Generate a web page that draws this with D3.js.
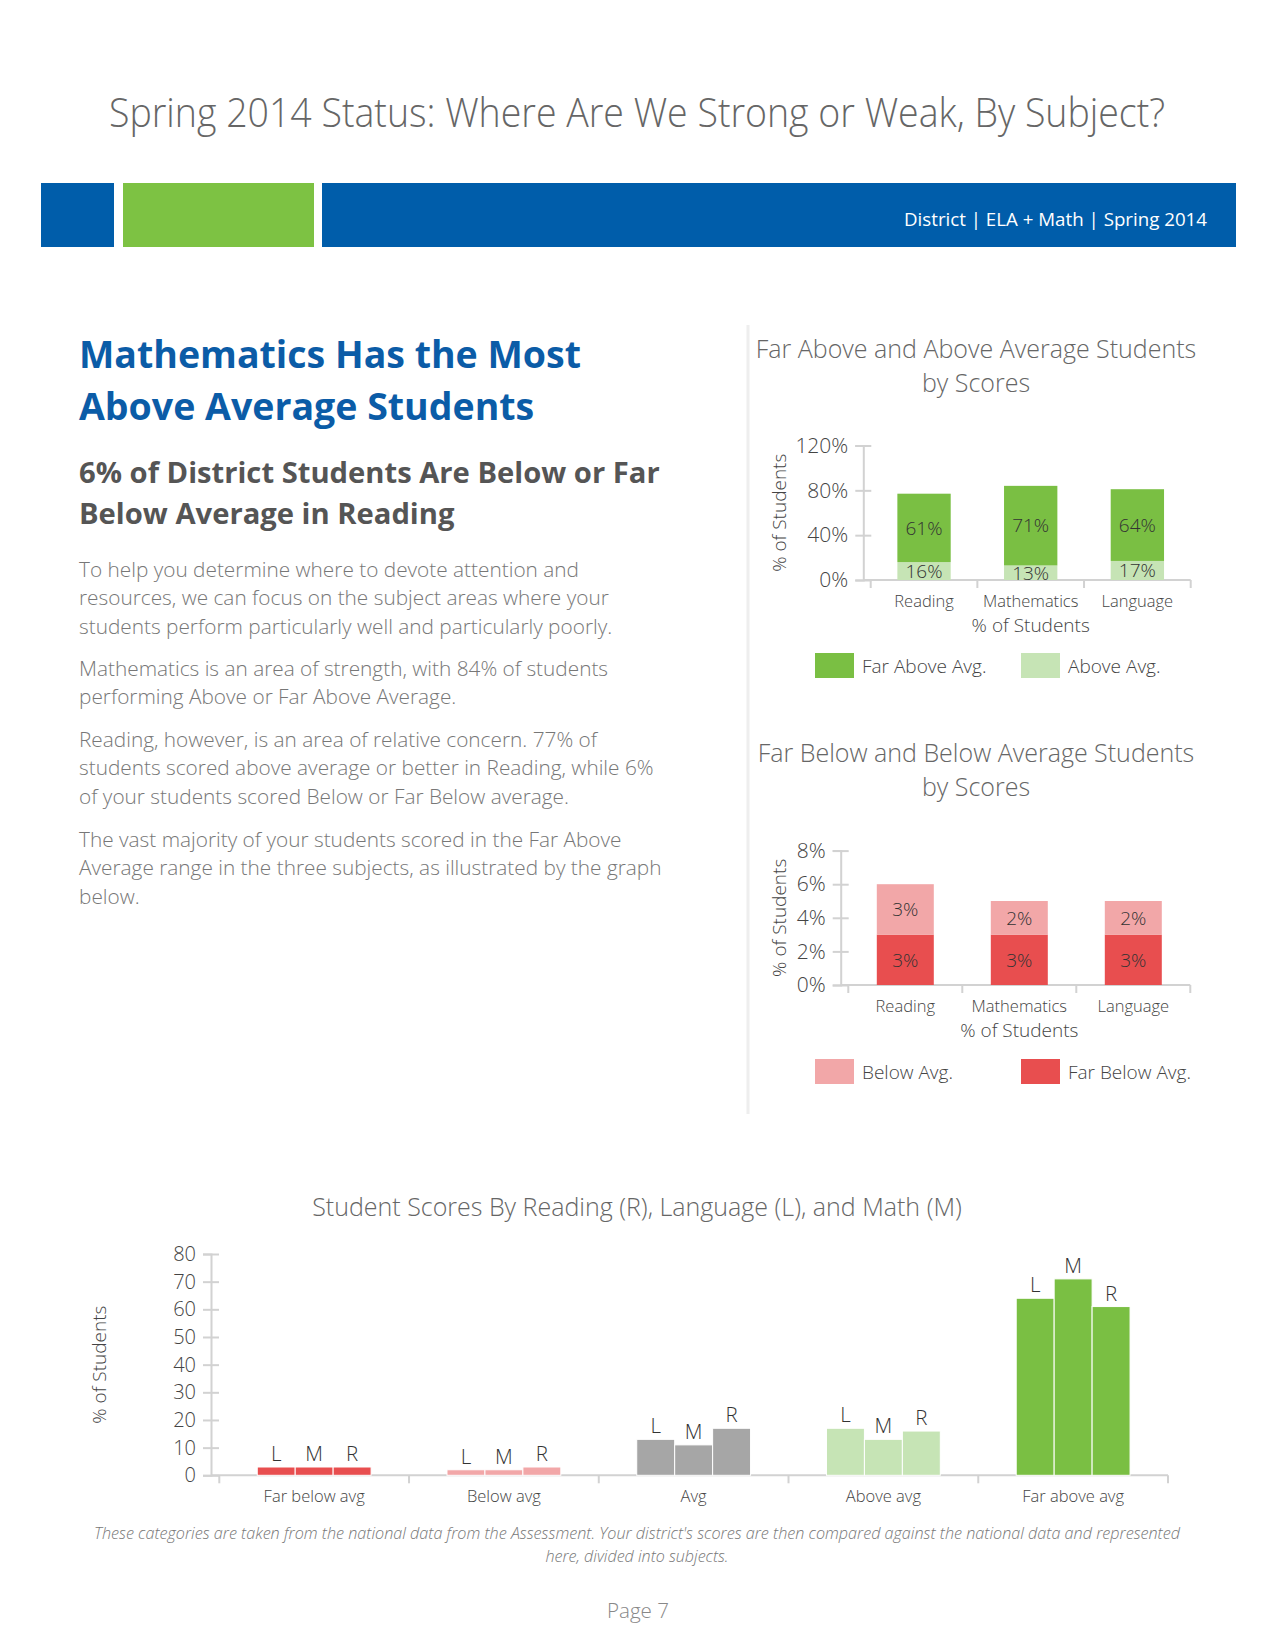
<!DOCTYPE html>
<html>
<head>
<meta charset="utf-8">
<script src="https://cdn.jsdelivr.net/npm/d3@7"></script>
<style>
  body { margin: 0; background: #fff; }
  svg { display: block; font-family: "Open Sans", sans-serif; }
</style>
</head>
<body>
<div id="page"></div>
<script>
// page size
const width = 1275;
const height = 1650;

// data
const subjects = ["Reading", "Mathematics", "Language"];
const farAbove = [61, 71, 64];
const aboveAvg = [16, 13, 17];
const belowAvg = [3, 2, 2];
const farBelow = [3, 3, 3];
const topTicks = [0, 40, 80, 120];
const lowTicks = [0, 2, 4, 6, 8];

const levels = ["Far below avg", "Below avg", "Avg", "Above avg", "Far above avg"];
const letters = ["L", "M", "R"];
const langScores = [3, 2, 13, 17, 64];
const mathScores = [3, 2, 11, 13, 71];
const readScores = [3, 3, 17, 16, 61];
const scoreTicks = [0, 10, 20, 30, 40, 50, 60, 70, 80];

// colours
const blue = "#005DAA";
const green = "#7ABF43";
const lightGreen = "#C6E4B5";
const pink = "#F2A7A8";
const red = "#E84E4F";
const grey = "#A6A6A6";
const axisColor = "#d2d2d2";
const levelColors = [red, pink, grey, lightGreen, green];

const svg = d3.select("#page")
  .append("svg")
  .attr("width", width)
  .attr("height", height)
  .attr("viewBox", [0, 0, width, height]);

/*
  Header
*/
svg.append("text")
  .attr("x", 637).attr("y", 127)
  .attr("text-anchor", "middle")
  .attr("font-size", 40).attr("font-weight", 300)
  .attr("fill", "#666")
  .attr("textLength", 1056).attr("lengthAdjust", "spacingAndGlyphs")
  .text("Spring 2014 Status: Where Are We Strong or Weak, By Subject?");

svg.append("rect").attr("x", 41).attr("y", 183).attr("width", 73).attr("height", 64).attr("fill", blue);
svg.append("rect").attr("x", 123).attr("y", 183).attr("width", 191).attr("height", 64).attr("fill", "#7DC243");
svg.append("rect").attr("x", 322).attr("y", 183).attr("width", 914).attr("height", 64).attr("fill", blue);

svg.append("text")
  .attr("x", 1207).attr("y", 226)
  .attr("text-anchor", "end")
  .attr("font-size", 19)
  .attr("fill", "#fff")
  .attr("textLength", 303).attr("lengthAdjust", "spacingAndGlyphs")
  .text("District | ELA + Math | Spring 2014");

/*
  Left column text
*/
const headLines = ["Mathematics Has the Most", "Above Average Students"];
svg.selectAll(".head")
  .data(headLines)
  .enter()
  .append("text")
    .attr("class", "head")
    .attr("x", 79).attr("y", (d, i) => 368 + i * 52)
    .attr("font-size", 37.5).attr("font-weight", 700)
    .attr("fill", "#0B5CA7")
    .text(d => d);

const subLines = ["6% of District Students Are Below or Far", "Below Average in Reading"];
svg.selectAll(".sub")
  .data(subLines)
  .enter()
  .append("text")
    .attr("class", "sub")
    .attr("x", 79).attr("y", (d, i) => 483 + i * 40.5)
    .attr("font-size", 29.2).attr("font-weight", 700)
    .attr("fill", "#555")
    .text(d => d);

const paragraphs = [
  {y: 577, lines: ["To help you determine where to devote attention and",
                   "resources, we can focus on the subject areas where your",
                   "students perform particularly well and particularly poorly."]},
  {y: 676, lines: ["Mathematics is an area of strength, with 84% of students",
                   "performing Above or Far Above Average."]},
  {y: 747, lines: ["Reading, however, is an area of relative concern. 77% of",
                   "students scored above average or better in Reading, while 6%",
                   "of your students scored Below or Far Below average."]},
  {y: 847, lines: ["The vast majority of your students scored in the Far Above",
                   "Average range in the three subjects, as illustrated by the graph",
                   "below."]}
];
paragraphs.forEach(p => {
  svg.append("g").selectAll("text")
    .data(p.lines)
    .enter()
    .append("text")
      .attr("x", 79).attr("y", (d, i) => p.y + i * 28.3)
      .attr("font-size", 20.8).attr("font-weight", 300)
      .attr("fill", "#777")
      .text(d => d);
});

// separator
svg.append("line")
  .attr("x1", 748).attr("x2", 748).attr("y1", 325).attr("y2", 1114)
  .attr("stroke", "#eeeeee").attr("stroke-width", 3);

/*
  Small stacked charts
*/
function stackedChart(opt) {
  const g = svg.append("g");

  g.selectAll(".title")
    .data(opt.title)
    .enter()
    .append("text")
      .attr("x", 976).attr("y", (d, i) => opt.titleY + i * 34)
      .attr("text-anchor", "middle")
      .attr("font-size", 25).attr("font-weight", 300)
      .attr("fill", "#666")
      .text(d => d);

  const y = d3.scaleLinear().domain(opt.domain).range(opt.yRange);
  const x = d3.scaleBand()
    .domain(subjects)
    .range(opt.xRange)
    .paddingInner(0.5)
    .paddingOuter(0.25);

  // y axis
  const ya = g.append("g")
    .attr("transform", `translate(${opt.axisX},0)`)
    .call(d3.axisLeft(y).tickValues(opt.ticks).tickSize(8).tickPadding(7).tickFormat(d => d + "%"));
  ya.select(".domain").attr("stroke", axisColor).attr("stroke-width", 2);
  ya.selectAll(".tick line").attr("x1", 8).attr("stroke", axisColor).attr("stroke-width", 2);
  ya.selectAll(".tick text").attr("font-size", 21).attr("font-weight", 300).attr("fill", "#444")
    .attr("font-family", "Open Sans");

  // x axis
  const base = y(0);
  g.append("line")
    .attr("x1", opt.axisX).attr("x2", x.range()[1])
    .attr("y1", base).attr("y2", base)
    .attr("stroke", axisColor).attr("stroke-width", 2);
  g.selectAll(".bound")
    .data(d3.range(subjects.length + 1))
    .enter()
    .append("line")
      .attr("x1", i => x.range()[0] + i * x.step())
      .attr("x2", i => x.range()[0] + i * x.step())
      .attr("y1", base).attr("y2", base + 8)
      .attr("stroke", axisColor).attr("stroke-width", 2);
  const xa = g.append("g")
    .attr("transform", `translate(0,${base})`)
    .call(d3.axisBottom(x).tickSize(0).tickPadding(15));
  xa.select(".domain").remove();
  xa.selectAll(".tick text").attr("font-size", 16.5).attr("font-weight", 300).attr("fill", "#444")
    .attr("font-family", "Open Sans");

  g.append("text")
    .attr("x", (x.range()[0] + x.range()[1]) / 2).attr("y", base + 52)
    .attr("text-anchor", "middle")
    .attr("font-size", 19).attr("font-weight", 300).attr("fill", "#444")
    .text("% of Students");

  g.append("text")
    .attr("transform", `translate(${opt.labelX},${(y.range()[0] + y.range()[1]) / 2}) rotate(-90)`)
    .attr("text-anchor", "middle")
    .attr("dominant-baseline", "middle")
    .attr("font-size", 19).attr("font-weight", 300).attr("fill", "#444")
    .text("% of Students");

  // bars
  const rows = subjects.map((s, i) => {
    const r = {name: s};
    opt.series.forEach(k => { r[k.key] = k.values[i]; });
    return r;
  });
  const stacked = d3.stack().keys(opt.series.map(k => k.key))(rows);

  stacked.forEach((layer, li) => {
    g.append("g").selectAll("rect")
      .data(layer)
      .enter()
      .append("rect")
        .attr("x", d => x(d.data.name))
        .attr("y", d => y(d[1]))
        .attr("width", x.bandwidth())
        .attr("height", d => y(d[0]) - y(d[1]))
        .attr("fill", opt.series[li].color);
    g.append("g").selectAll("text")
      .data(layer)
      .enter()
      .append("text")
        .attr("x", d => x(d.data.name) + x.bandwidth() / 2)
        .attr("y", d => y((d[0] + d[1]) / 2))
        .attr("dy", "0.36em")
        .attr("text-anchor", "middle")
        .attr("font-size", 19).attr("font-weight", 300).attr("fill", "#333")
        .text(d => (d[1] - d[0]) + "%");
  });

  // legend
  const lg = g.append("g").selectAll("g")
    .data(opt.legend)
    .enter()
    .append("g")
      .attr("transform", (d, i) => `translate(${815 + i * 206},${opt.legendY})`);
  lg.append("rect").attr("width", 39).attr("height", 25).attr("fill", d => d.color);
  lg.append("text")
    .attr("x", 47).attr("y", 13).attr("dy", "0.36em")
    .attr("font-size", 19).attr("font-weight", 300).attr("fill", "#444")
    .text(d => d.name);
}

stackedChart({
  title: ["Far Above and Above Average Students", "by Scores"],
  titleY: 358,
  domain: [0, 120],
  yRange: [580, 445.5],
  xRange: [870.7, 1190.7],
  axisX: 863.3,
  labelX: 781,
  ticks: topTicks,
  series: [
    {key: "above", values: aboveAvg, color: lightGreen},
    {key: "far", values: farAbove, color: green}
  ],
  legend: [{name: "Far Above Avg.", color: green}, {name: "Above Avg.", color: lightGreen}],
  legendY: 653
});

stackedChart({
  title: ["Far Below and Below Average Students", "by Scores"],
  titleY: 762,
  domain: [0, 8],
  yRange: [985, 850.6],
  xRange: [848.3, 1190.3],
  axisX: 840.7,
  labelX: 781,
  ticks: lowTicks,
  series: [
    {key: "far", values: farBelow, color: red},
    {key: "below", values: belowAvg, color: pink}
  ],
  legend: [{name: "Below Avg.", color: pink}, {name: "Far Below Avg.", color: red}],
  legendY: 1059
});

/*
  Bottom grouped chart
*/
const scores = {L: langScores, M: mathScores, R: readScores};

svg.append("text")
  .attr("x", 637).attr("y", 1216)
  .attr("text-anchor", "middle")
  .attr("font-size", 25).attr("font-weight", 300).attr("fill", "#666")
  .text("Student Scores By Reading (R), Language (L), and Math (M)");

const yB = d3.scaleLinear().domain([0, 80]).range([1475.3, 1254]);
const x0 = d3.scaleBand()
  .domain(levels)
  .range([219.3, 1168])
  .paddingInner(0.4)
  .paddingOuter(0.2);
const x1 = d3.scaleBand()
  .domain(letters)
  .range([0, x0.bandwidth()]);

const yaB = svg.append("g")
  .attr("transform", "translate(211,0)")
  .call(d3.axisLeft(yB).tickValues(scoreTicks).tickSize(8).tickPadding(7));
yaB.select(".domain").attr("stroke", axisColor).attr("stroke-width", 2);
yaB.selectAll(".tick line").attr("x1", 8).attr("stroke", axisColor).attr("stroke-width", 2);
yaB.selectAll(".tick text").attr("font-size", 20).attr("font-weight", 300).attr("fill", "#444")
  .attr("font-family", "Open Sans");

svg.append("line")
  .attr("x1", 211).attr("x2", x0.range()[1])
  .attr("y1", yB(0)).attr("y2", yB(0))
  .attr("stroke", axisColor).attr("stroke-width", 2);
svg.selectAll(".bbound")
  .data(d3.range(levels.length + 1))
  .enter()
  .append("line")
    .attr("class", "bbound")
    .attr("x1", i => x0.range()[0] + i * x0.step())
    .attr("x2", i => x0.range()[0] + i * x0.step())
    .attr("y1", yB(0)).attr("y2", yB(0) + 8)
    .attr("stroke", axisColor).attr("stroke-width", 2);

const xaB = svg.append("g")
  .attr("transform", `translate(0,${yB(0)})`)
  .call(d3.axisBottom(x0).tickSize(0).tickPadding(15));
xaB.select(".domain").remove();
xaB.selectAll(".tick text").attr("font-size", 16.5).attr("font-weight", 300).attr("fill", "#444")
  .attr("font-family", "Open Sans");

svg.append("text")
  .attr("transform", `translate(101,${(yB.range()[0] + yB.range()[1]) / 2}) rotate(-90)`)
  .attr("text-anchor", "middle")
  .attr("dominant-baseline", "middle")
  .attr("font-size", 19).attr("font-weight", 300).attr("fill", "#444")
  .text("% of Students");

const groups = svg.selectAll(".grp")
  .data(levels)
  .enter()
  .append("g")
    .attr("class", "grp")
    .attr("transform", d => `translate(${x0(d)},0)`);

groups.selectAll("rect")
  .data((d, i) => letters.map(k => ({key: k, value: scores[k][i], color: levelColors[i]})))
  .enter()
  .append("rect")
    .attr("x", d => x1(d.key))
    .attr("y", d => yB(d.value))
    .attr("width", x1.bandwidth())
    .attr("height", d => yB(0) - yB(d.value))
    .attr("fill", d => d.color)
    .attr("stroke", "#fff")
    .attr("stroke-width", 1);

groups.selectAll("text")
  .data((d, i) => letters.map(k => ({key: k, value: scores[k][i]})))
  .enter()
  .append("text")
    .attr("x", d => x1(d.key) + x1.bandwidth() / 2)
    .attr("y", d => yB(d.value) - 6)
    .attr("text-anchor", "middle")
    .attr("font-size", 20.5).attr("font-weight", 300).attr("fill", "#333")
    .text(d => d.key);

/*
  Footer
*/
const noteLines = [
  "These categories are taken from the national data from the Assessment. Your district's scores are then compared against the national data and represented",
  "here, divided into subjects."
];
svg.selectAll(".note")
  .data(noteLines)
  .enter()
  .append("text")
    .attr("class", "note")
    .attr("x", 637).attr("y", (d, i) => 1539 + i * 23)
    .attr("text-anchor", "middle")
    .attr("font-size", 17).attr("font-weight", 300).attr("font-style", "italic")
    .attr("fill", "#777")
    .attr("textLength", (d, i) => i === 0 ? 1086 : 183)
    .attr("lengthAdjust", "spacingAndGlyphs")
    .text(d => d);

svg.append("text")
  .attr("x", 638).attr("y", 1618)
  .attr("text-anchor", "middle")
  .attr("font-size", 21).attr("font-weight", 300).attr("fill", "#888")
  .attr("textLength", 62).attr("lengthAdjust", "spacingAndGlyphs")
  .text("Page 7");
</script>
</body>
</html>
